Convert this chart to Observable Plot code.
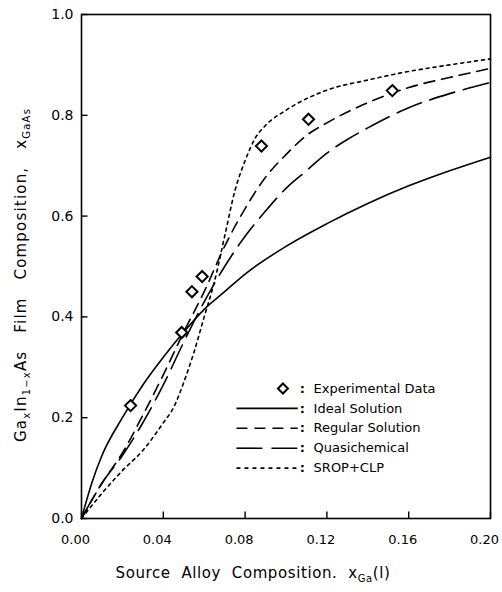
<!DOCTYPE html>
<html><head><meta charset="utf-8">
<script src="https://cdn.jsdelivr.net/npm/d3@7"></script>
<script src="https://cdn.jsdelivr.net/npm/@observablehq/plot@0.6"></script>
<style>body{margin:0;background:#fff}</style>
</head><body><div id="chart"></div>
<script>
// Experimental data
const expX = [0.024, 0.049, 0.054, 0.059, 0.088, 0.111, 0.152];
const expY = [0.224, 0.369, 0.45, 0.48, 0.739, 0.792, 0.849];

// Ideal solution
const idealX = [0, 0.005, 0.01, 0.02, 0.03, 0.04, 0.05, 0.06, 0.07, 0.08, 0.10, 0.12, 0.14, 0.16, 0.18, 0.20];
const idealY = [0, 0.07, 0.125, 0.2, 0.265, 0.32, 0.37, 0.415, 0.45, 0.485, 0.54, 0.585, 0.625, 0.66, 0.69, 0.717];

// Regular solution
const regX = [0, 0.01, 0.02, 0.03, 0.04, 0.05, 0.06, 0.07, 0.08, 0.09, 0.10, 0.11, 0.12, 0.14, 0.16, 0.18, 0.20];
const regY = [0, 0.07, 0.13, 0.205, 0.285, 0.37, 0.45, 0.54, 0.615, 0.677, 0.722, 0.76, 0.785, 0.825, 0.855, 0.875, 0.893];

// Quasichemical
const quasiX = [0, 0.01, 0.02, 0.03, 0.04, 0.05, 0.06, 0.07, 0.08, 0.09, 0.10, 0.11, 0.12, 0.13, 0.14, 0.16, 0.18, 0.20];
const quasiY = [0, 0.07, 0.125, 0.19, 0.265, 0.35, 0.43, 0.5, 0.56, 0.61, 0.655, 0.69, 0.725, 0.752, 0.775, 0.815, 0.843, 0.865];

// SROP+CLP
const sropX = [0, 0.01, 0.02, 0.03, 0.04, 0.045, 0.05, 0.055, 0.06, 0.065, 0.07, 0.075, 0.08, 0.085, 0.09, 0.10, 0.12, 0.14, 0.16, 0.18, 0.20];
const sropY = [0, 0.05, 0.095, 0.135, 0.19, 0.22, 0.27, 0.33, 0.40, 0.47, 0.56, 0.65, 0.71, 0.755, 0.78, 0.81, 0.85, 0.87, 0.887, 0.9, 0.912];

const xTicks = [0, 0.04, 0.08, 0.12, 0.16, 0.20];
const yTicks = [0, 0.2, 0.4, 0.6, 0.8, 1.0];
const legendLabels = ["Experimental Data", "Ideal Solution", "Regular Solution", "Quasichemical", "SROP+CLP"];

const pts = (X, Y) => X.map((x, i) => ({x, y: Y[i]}));
const font = "DejaVu Sans, sans-serif";

// legend layout (data space)
const legTop = 0.258, legStep = 0.0395;
const legRows = legendLabels.map((label, i) => ({label, i, y: legTop - i * legStep}));
const lineStyles = [null, null, "11,7", "26,9", "4,4"];

const marks = [
  Plot.frame({stroke: "black", strokeWidth: 1.6}),
  Plot.axisX({ticks: xTicks, tickFormat: d3.format(".2f"), tickSize: 0, tickPadding: 16, dx: -6, fontSize: 13, label: null}),
  Plot.axisY({ticks: yTicks, tickFormat: d3.format(".1f"), tickSize: 0, tickPadding: 8, fontSize: 14, label: null}),
  // inward tick marks
  Plot.ruleX(xTicks, {y1: 0, y2: 0.013, stroke: "black", strokeWidth: 1.4}),
  Plot.ruleY(yTicks, {x1: 0, x2: 0.0032, stroke: "black", strokeWidth: 1.4}),
  Plot.line(pts(idealX, idealY), {x: "x", y: "y", stroke: "black", strokeWidth: 1.6, curve: "monotone-x"}),
  Plot.line(pts(regX, regY), {x: "x", y: "y", stroke: "black", strokeWidth: 1.6, strokeDasharray: "11,7", curve: "monotone-x"}),
  Plot.line(pts(quasiX, quasiY), {x: "x", y: "y", stroke: "black", strokeWidth: 1.6, strokeDasharray: "26,9", curve: "monotone-x"}),
  Plot.line(pts(sropX, sropY), {x: "x", y: "y", stroke: "black", strokeWidth: 1.6, strokeDasharray: "3,4", curve: "monotone-x"}),
  Plot.dot(pts(expX, expY), {x: "x", y: "y", symbol: "diamond2", r: 5, stroke: "black", strokeWidth: 2, fill: "white"}),
  // legend
  Plot.dot(legRows.filter(d => d.i === 0), {x: 0.0985, y: "y", symbol: "diamond2", r: 4.5, stroke: "black", strokeWidth: 2}),
  ...legRows.filter(d => d.i > 0).map(d => Plot.ruleY([d], {y: "y", x1: 0.076, x2: 0.106, stroke: "black", strokeWidth: 1.6, strokeDasharray: lineStyles[d.i]})),
  Plot.text(legRows, {x: 0.108, y: "y", text: () => ":", fontSize: 13, fontWeight: "bold", fontFamily: font}),
  Plot.text(legRows, {x: 0.1135, y: "y", text: "label", textAnchor: "start", fontSize: 13, fontFamily: font})
];

const svg = Plot.plot({
  width: 502, height: 592,
  marginLeft: 81, marginRight: 12, marginTop: 14, marginBottom: 74,
  x: {domain: [0, 0.20]},
  y: {domain: [0, 1.0]},
  style: {fontFamily: font, fontSize: "14px", color: "black", background: "white"},
  marks
});

const s = d3.select(svg);
// y axis title
const yl = s.append("text").attr("transform", "translate(26,275) rotate(-90)")
  .attr("text-anchor", "middle").attr("font-size", 15).attr("font-family", font).attr("fill", "black")
  .attr("letter-spacing", "1.2px").attr("style", "white-space:pre");
yl.append("tspan").text("Ga");
yl.append("tspan").text("x").attr("font-size", 10).attr("dy", 4);
yl.append("tspan").text("In").attr("dy", -4);
yl.append("tspan").text("1−x").attr("font-size", 10).attr("dy", 4);
yl.append("tspan").text("As   Film   Composition,   x").attr("dy", -4);
yl.append("tspan").text("GaAs").attr("font-size", 10).attr("dy", 4);

// x axis title
const xl = s.append("text").attr("x", 253).attr("y", 578)
  .attr("text-anchor", "middle").attr("font-size", 15).attr("font-family", font).attr("fill", "black")
  .attr("letter-spacing", "0.6px").attr("style", "white-space:pre");
xl.append("tspan").text("Source  Alloy  Composition.  x");
xl.append("tspan").text("Ga").attr("font-size", 10).attr("dy", 4);
xl.append("tspan").text("(l)").attr("dy", -4);

document.getElementById("chart").appendChild(svg);
</script>
</body></html>
